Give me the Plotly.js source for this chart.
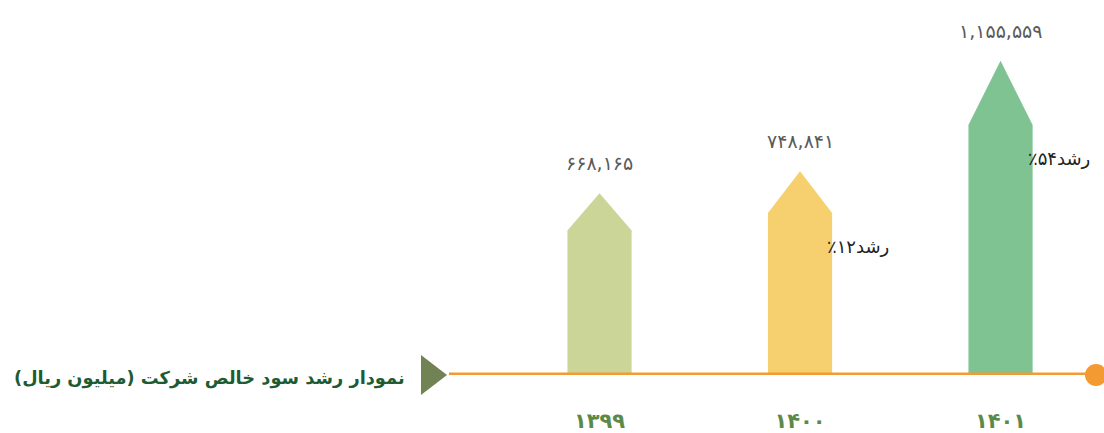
<!DOCTYPE html>
<html>
<head>
<meta charset="utf-8">
<script src="https://cdn.plot.ly/plotly-3.0.1.min.js"></script>
<style>html,body{margin:0;padding:0;background:#fff;}#chart{width:1104px;height:433px;}</style>
</head>
<body>
<div id="chart"></div>
<script>
// ---- data ----
const years = ['۱۳۹۹', '۱۴۰۰', '۱۴۰۱'];
const netProfit = [668165, 748841, 1155559];
const barColors = ['#cbd598', '#f6cf6f', '#7fc393'];
const chartTitle = 'نمودار رشد سود خالص شرکت (میلیون ریال)';
const growthWord = 'رشد';

// ---- helpers ----
const faDigits = '۰۱۲۳۴۵۶۷۸۹';
function toFa(s) { return String(s).replace(/[0-9]/g, d => faDigits[+d]); }
function fmt(v) { return toFa(v.toString().replace(/\B(?=(\d{3})+(?!\d))/g, ',')); }

const W = 1104, H = 433, B = 58;   // figure size, bottom margin
const plotH = H - B;
const halfW = 0.16;      // half bar width (x units)
const shoulder = 0.795;  // fraction of height where the arrow head starts

const traces = netProfit.map((v, i) => ({
  type: 'scatter', mode: 'lines', fill: 'toself',
  x: [i - halfW, i - halfW, i, i + halfW, i + halfW, i - halfW],
  y: [0, v * shoulder, v, v * shoulder, 0, 0],
  fillcolor: barColors[i], line: {width: 0, color: barColors[i]},
  hoverinfo: 'skip', showlegend: false
}));

const annotations = [];
netProfit.forEach((v, i) => {
  annotations.push({
    x: i, y: v, xref: 'x', yref: 'y', text: fmt(v), showarrow: false,
    yshift: 30, xanchor: 'center', yanchor: 'middle',
    font: {family: 'DejaVu Sans', size: 19, color: '#5a5a5a'}
  });
  if (i > 0) {
    const g = Math.round((v / netProfit[i - 1] - 1) * 100);
    annotations.push({
      x: i + halfW, y: v * shoulder, xref: 'x', yref: 'y',
      text: '\u200F' + growthWord + toFa(g) + '٪' + '\u200F', showarrow: false,
      xshift: -7, yshift: -33, xanchor: 'left', yanchor: 'middle',
      font: {family: 'DejaVu Sans', size: 18, color: '#222'}
    });
  }
});
annotations.push({
  xref: 'paper', yref: 'paper', x: 407 / W, y: (plotH - 378) / plotH,
  text: '\u200F' + chartTitle + '\u200F', showarrow: false,
  xanchor: 'right', yanchor: 'middle',
  font: {family: 'DejaVu Sans', size: 17.8, color: '#1d5c33', weight: 'bold'}
});

const px = x => x / W;
const py = y => (plotH - y) / plotH;

const layout = {
  width: W, height: H,
  margin: {l: 0, r: 0, t: 0, b: B, pad: 0},
  paper_bgcolor: '#fff', plot_bgcolor: '#fff',
  xaxis: {
    range: [-2.990, 2.516], tickvals: [0, 1, 2], ticktext: years,
    showgrid: false, zeroline: false, showline: false, ticks: '',
    ticklabelstandoff: 31,
    tickfont: {family: 'DejaVu Sans', size: 21, color: '#5b8a48', weight: 'bold'},
    fixedrange: true
  },
  yaxis: {
    range: [0, plotH / 0.000272], visible: false, fixedrange: true
  },
  shapes: [
    {type: 'line', xref: 'paper', yref: 'y', x0: px(449), x1: px(1092), y0: 0, y1: 0,
     line: {color: '#f39a32', width: 5}, layer: 'above'},
    {type: 'circle', xref: 'paper', yref: 'paper', x0: px(1085), x1: px(1107), y0: py(386), y1: py(364),
     fillcolor: '#f39a32', line: {width: 0}, layer: 'above'},
    {type: 'path', xref: 'paper', yref: 'paper',
     path: `M ${px(421)},${py(355)} L ${px(421)},${py(395)} L ${px(447)},${py(375)} Z`,
     fillcolor: '#718254', line: {width: 0}, layer: 'above'}
  ],
  annotations: annotations
};

Plotly.newPlot('chart', traces, layout, {staticPlot: true, displayModeBar: false});
</script>
</body>
</html>
